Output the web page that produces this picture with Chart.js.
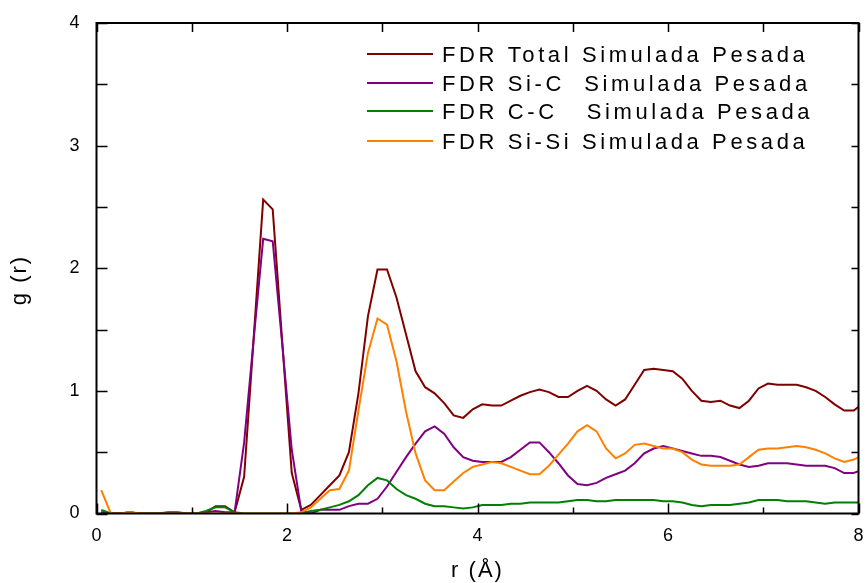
<!DOCTYPE html>
<html lang="es">
<head>
    <meta charset="UTF-8">
    <title>FDR Simulada Pesada</title>
    <script src="https://cdn.jsdelivr.net/npm/chart.js"></script>
    <style>
        html, body {
            margin: 0;
            padding: 0;
            background-color: #fff;
        }
        #wrap {
            width: 866px;
            height: 583px;
        }
    </style>
</head>
<body>

<div id="wrap">
    <canvas id="fdrChart" width="866" height="583"></canvas>
</div>

<script>
    // r values (Å), one point every 0.1 Å
    const rValues = [
        0.05, 0.15, 0.25, 0.35, 0.45, 0.55, 0.65, 0.75, 0.85, 0.95,
        1.05, 1.15, 1.25, 1.35, 1.45, 1.55, 1.65, 1.75, 1.85, 1.95,
        2.05, 2.15, 2.25, 2.35, 2.45, 2.55, 2.65, 2.75, 2.85, 2.95,
        3.05, 3.15, 3.25, 3.35, 3.45, 3.55, 3.65, 3.75, 3.85, 3.95,
        4.05, 4.15, 4.25, 4.35, 4.45, 4.55, 4.65, 4.75, 4.85, 4.95,
        5.05, 5.15, 5.25, 5.35, 5.45, 5.55, 5.65, 5.75, 5.85, 5.95,
        6.05, 6.15, 6.25, 6.35, 6.45, 6.55, 6.65, 6.75, 6.85, 6.95,
        7.05, 7.15, 7.25, 7.35, 7.45, 7.55, 7.65, 7.75, 7.85, 7.95,
        8.05
    ];

    const gTotal = [
        0.01, 0.00, 0.00, 0.01, 0.00, 0.00, 0.00, 0.00, 0.00, 0.00,
        0.00, 0.01, 0.06, 0.06, 0.01, 0.30, 1.43, 2.56, 2.48, 1.40,
        0.33, 0.03, 0.07, 0.15, 0.23, 0.31, 0.50, 0.98, 1.61, 1.99,
        1.99, 1.76, 1.46, 1.16, 1.03, 0.98, 0.90, 0.80, 0.78, 0.85,
        0.89, 0.88, 0.88, 0.92, 0.96, 0.99, 1.01, 0.99, 0.95, 0.95,
        1.00, 1.04, 1.00, 0.93, 0.88, 0.93, 1.05, 1.17, 1.18, 1.17,
        1.16, 1.10, 1.00, 0.92, 0.91, 0.92, 0.88, 0.86, 0.92, 1.02,
        1.06, 1.05, 1.05, 1.05, 1.03, 1.00, 0.95, 0.89, 0.84, 0.84,
        0.90
    ];

    const gSiC = [
        0.01, 0.00, 0.00, 0.01, 0.00, 0.00, 0.00, 0.01, 0.01, 0.00,
        0.00, 0.01, 0.02, 0.01, 0.01, 0.58, 1.42, 2.24, 2.22, 1.38,
        0.52, 0.02, 0.00, 0.03, 0.03, 0.03, 0.06, 0.08, 0.08, 0.12,
        0.22, 0.34, 0.46, 0.57, 0.67, 0.71, 0.65, 0.54, 0.46, 0.43,
        0.42, 0.42, 0.42, 0.46, 0.52, 0.58, 0.58, 0.50, 0.41, 0.31,
        0.24, 0.23, 0.25, 0.29, 0.32, 0.35, 0.41, 0.49, 0.53, 0.55,
        0.53, 0.51, 0.49, 0.47, 0.47, 0.46, 0.43, 0.40, 0.38, 0.39,
        0.41, 0.41, 0.41, 0.40, 0.39, 0.39, 0.39, 0.37, 0.33, 0.33,
        0.36
    ];

    const gCC = [
        0.03, 0.00, 0.00, 0.00, 0.00, 0.00, 0.00, 0.00, 0.00, 0.00,
        0.00, 0.02, 0.05, 0.05, 0.01, 0.00, 0.00, 0.00, 0.00, 0.00,
        0.00, 0.00, 0.02, 0.03, 0.05, 0.07, 0.10, 0.15, 0.23, 0.29,
        0.27, 0.20, 0.15, 0.12, 0.08, 0.06, 0.06, 0.05, 0.04, 0.05,
        0.07, 0.07, 0.07, 0.08, 0.08, 0.09, 0.09, 0.09, 0.09, 0.10,
        0.11, 0.11, 0.10, 0.10, 0.11, 0.11, 0.11, 0.11, 0.11, 0.10,
        0.10, 0.09, 0.07, 0.06, 0.07, 0.07, 0.07, 0.08, 0.09, 0.11,
        0.11, 0.11, 0.10, 0.10, 0.10, 0.09, 0.08, 0.09, 0.09, 0.09,
        0.09
    ];

    const gSiSi = [
        0.19, 0.00, 0.00, 0.01, 0.00, 0.00, 0.00, 0.00, 0.00, 0.00,
        0.00, 0.00, 0.00, 0.00, 0.00, 0.00, 0.00, 0.00, 0.00, 0.00,
        0.00, 0.01, 0.05, 0.12, 0.19, 0.20, 0.35, 0.84, 1.31, 1.59,
        1.54, 1.24, 0.83, 0.49, 0.27, 0.19, 0.19, 0.26, 0.33, 0.38,
        0.40, 0.42, 0.41, 0.38, 0.35, 0.32, 0.32, 0.39, 0.48, 0.57,
        0.67, 0.72, 0.67, 0.53, 0.45, 0.49, 0.56, 0.57, 0.55, 0.53,
        0.53, 0.50, 0.44, 0.40, 0.39, 0.39, 0.39, 0.40, 0.46, 0.52,
        0.53, 0.53, 0.54, 0.55, 0.54, 0.52, 0.49, 0.45, 0.42, 0.44,
        0.48
    ];

    const seriesLabels = [
        'FDR Total Simulada Pesada',
        'FDR Si-C  Simulada Pesada',
        'FDR C-C   Simulada Pesada',
        'FDR Si-Si Simulada Pesada'
    ];
    const seriesColors = ['#800000', '#800080', '#008000', '#ff8000'];

    const xMajorTicks = [0, 2, 4, 6, 8];
    const xMinorTicks = [1, 3, 5, 7];
    const yMajorTicks = [0, 1, 2, 3, 4];
    const yMinorTicks = [0.5, 1.5, 2.5, 3.5];

    const xTitle = 'r (Å)';
    const yTitle = 'g (r)';

    function toPoints(values) {
        return rValues.map((r, i) => ({ x: r, y: values[i] }));
    }

    // frame, inward ticks, axis titles and the legend inside the plot
    const framePlugin = {
        id: 'frameAndLegend',
        afterDatasetsDraw(chart) {
            const ctx = chart.ctx;
            const a = chart.chartArea;
            const xs = chart.scales.x;
            const ys = chart.scales.y;

            ctx.save();
            ctx.strokeStyle = '#000';
            ctx.lineWidth = 1.5;
            ctx.beginPath();
            xMajorTicks.concat(xMinorTicks).forEach(v => {
                const px = Math.round(xs.getPixelForValue(v)) + 0.5;
                const len = xMajorTicks.includes(v) ? 10 : 6;
                ctx.moveTo(px, a.bottom);
                ctx.lineTo(px, a.bottom - len);
                ctx.moveTo(px, a.top);
                ctx.lineTo(px, a.top + 9);
            });
            yMajorTicks.concat(yMinorTicks).forEach(v => {
                const py = Math.round(ys.getPixelForValue(v)) + 0.5;
                ctx.moveTo(a.left, py);
                ctx.lineTo(a.left + 11, py);
                ctx.moveTo(a.right, py);
                ctx.lineTo(a.right - 7, py);
            });
            ctx.stroke();

            ctx.lineWidth = 2;
            ctx.strokeRect(a.left, a.top, a.right - a.left, a.bottom - a.top);

            // axis titles
            ctx.fillStyle = '#000';
            ctx.font = '22px "Liberation Sans", Arial, sans-serif';
            ctx.letterSpacing = '2px';
            ctx.textAlign = 'center';
            ctx.textBaseline = 'alphabetic';
            ctx.fillText(xTitle, (a.left + a.right) / 2, 577);

            ctx.save();
            ctx.translate(26, 280);
            ctx.rotate(-Math.PI / 2);
            ctx.fillText(yTitle, 0, 0);
            ctx.restore();

            // legend
            ctx.letterSpacing = '3.6px';
            ctx.textAlign = 'left';
            const rows = [54, 83, 111, 141];
            chart.data.datasets.forEach((ds, i) => {
                const y = rows[i];
                ctx.strokeStyle = ds.borderColor;
                ctx.lineWidth = 2;
                ctx.beginPath();
                ctx.moveTo(367, y);
                ctx.lineTo(433, y);
                ctx.stroke();
                ctx.fillText(ds.label, 442, y + 8);
            });
            ctx.restore();
        }
    };

    function plotChart() {
        const ctx = document.getElementById('fdrChart').getContext('2d');
        const seriesValues = [gTotal, gSiC, gCC, gSiSi];

        new Chart(ctx, {
            type: 'line',
            data: {
                datasets: seriesValues.map((vals, i) => ({
                    label: seriesLabels[i],
                    data: toPoints(vals),
                    borderColor: seriesColors[i],
                    backgroundColor: seriesColors[i],
                    borderWidth: 2,
                    pointRadius: 0,
                    tension: 0,
                    fill: false,
                    clip: 0,
                    order: 3 - i
                }))
            },
            options: {
                responsive: false,
                animation: false,
                layout: {
                    padding: { top: 23, right: 7.5, left: 0, bottom: 0 }
                },
                scales: {
                    x: {
                        type: 'linear',
                        min: 0,
                        max: 8,
                        afterFit: s => {
                            s.height = 69.5;
                            s.paddingLeft = 0;
                            s.paddingRight = 0;
                        },
                        afterBuildTicks: s => { s.ticks = xMajorTicks.map(v => ({ value: v })); },
                        grid: { display: false, drawTicks: false },
                        border: { display: false },
                        ticks: {
                            padding: 12,
                            color: '#000',
                            font: { family: '"Liberation Sans", Arial, sans-serif', size: 18 }
                        }
                    },
                    y: {
                        min: 0,
                        max: 4,
                        afterFit: s => {
                            s.width = 96.5;
                            s.paddingTop = 0;
                            s.paddingBottom = 0;
                        },
                        afterBuildTicks: s => { s.ticks = yMajorTicks.map(v => ({ value: v })); },
                        grid: { display: false, drawTicks: false },
                        border: { display: false },
                        ticks: {
                            padding: 17,
                            color: '#000',
                            font: { family: '"Liberation Sans", Arial, sans-serif', size: 18 }
                        }
                    }
                },
                plugins: {
                    legend: { display: false },
                    tooltip: { enabled: false }
                }
            },
            plugins: [framePlugin]
        });
    }

    document.addEventListener('DOMContentLoaded', plotChart);
</script>

</body>
</html>
